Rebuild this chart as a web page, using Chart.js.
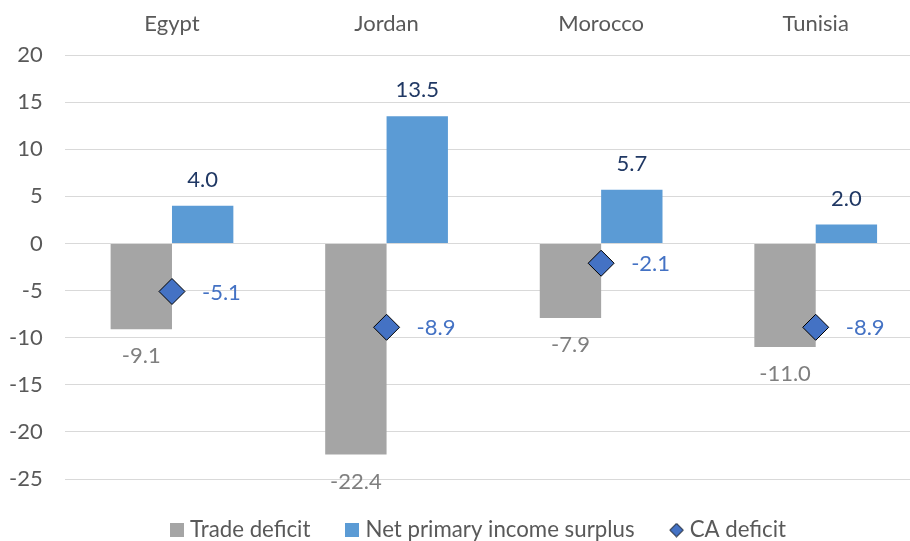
<!DOCTYPE html>
<html>
<head>
<meta charset="utf-8">
<script src="https://cdn.jsdelivr.net/npm/chart.js@4/dist/chart.umd.min.js"></script>
<style>
  html, body { margin: 0; padding: 0; background: #ffffff; overflow: hidden; }
  #wrap { width: 910px; height: 541px; overflow: hidden; }
  #c { display: block; }
</style>
</head>
<body>
<div id="wrap"><canvas id="c" width="923" height="541"></canvas></div>
<script>
const categories = ['Egypt', 'Jordan', 'Morocco', 'Tunisia'];
const tradeDeficit = [-9.1, -22.4, -7.9, -11.0];
const netPrimaryIncomeSurplus = [4.0, 13.5, 5.7, 2.0];
const caDeficit = [-5.1, -8.9, -2.1, -8.9];
const yTickValues = [20, 15, 10, 5, 0, -5, -10, -15, -20, -25];
const seriesNames = ['Trade deficit', 'Net primary income surplus', 'CA deficit'];

const FONT = 'Lato';
const GRAY = '#A5A5A5';
const BLUE = '#5B9BD5';
const DIAMOND = '#4472C4';
const TEXT = '#595959';

Chart.defaults.font.family = FONT;
Chart.defaults.font.size = 22;
Chart.defaults.color = TEXT;

function makeSquare(color) {
  const c = document.createElement('canvas');
  c.width = 14; c.height = 14;
  const g = c.getContext('2d');
  g.fillStyle = color;
  g.fillRect(0, 0, 14, 14);
  return c;
}
function makeDiamond(color) {
  const c = document.createElement('canvas');
  c.width = 15; c.height = 15;
  const g = c.getContext('2d');
  g.beginPath();
  g.moveTo(7.5, 0.8); g.lineTo(14.2, 7.5); g.lineTo(7.5, 14.2); g.lineTo(0.8, 7.5); g.closePath();
  g.fillStyle = color; g.fill();
  g.lineWidth = 1; g.strokeStyle = '#000000'; g.stroke();
  return c;
}
const legendIcons = [makeSquare(GRAY), makeSquare(BLUE), makeDiamond(DIAMOND)];

const valueLabels = {
  id: 'valueLabels',
  afterDatasetsDraw(chart) {
    const ctx = chart.ctx;
    ctx.save();
    ctx.font = '22px ' + FONT;
    ctx.textBaseline = 'middle';
    chart.data.datasets.forEach((ds, i) => {
      const meta = chart.getDatasetMeta(i);
      meta.data.forEach((el, j) => {
        const v = ds.data[j];
        const txt = v.toFixed(1);
        if (meta.type === 'line') {
          ctx.textAlign = 'left';
          ctx.fillStyle = DIAMOND;
          ctx.fillText(txt, el.x + 30, el.y + 1);
        } else if (v < 0) {
          ctx.textAlign = 'center';
          ctx.fillStyle = '#7F7F7F';
          ctx.fillText(txt, el.x, el.y + 27);
        } else {
          ctx.textAlign = 'center';
          ctx.fillStyle = '#203864';
          ctx.fillText(txt, el.x, el.y - 26);
        }
      });
    });
    ctx.restore();
  }
};

// The legend is centred slightly right of the canvas centre in the reference
const legendShift = {
  id: 'legendShift',
  afterLayout(chart) {
    if (chart.legend) {
      chart.legend.left += 19;
      chart.legend.right += 19;
    }
  }
};

new Chart(document.getElementById('c'), {
  type: 'bar',
  data: {
    labels: categories,
    datasets: [
      {
        label: seriesNames[0],
        data: tradeDeficit,
        backgroundColor: GRAY,
        borderWidth: 0,
        categoryPercentage: 0.572,
        barPercentage: 1.0
      },
      {
        label: seriesNames[1],
        data: netPrimaryIncomeSurplus,
        backgroundColor: BLUE,
        borderWidth: 0,
        categoryPercentage: 0.572,
        barPercentage: 1.0
      },
      {
        type: 'line',
        label: seriesNames[2],
        data: caDeficit,
        showLine: false,
        order: -1,
        pointStyle: 'rectRot',
        pointRadius: 13,
        pointHoverRadius: 13,
        pointBackgroundColor: DIAMOND,
        pointBorderColor: '#000000',
        pointBorderWidth: 1,
        backgroundColor: DIAMOND,
        borderColor: '#000000',
        clip: false
      }
    ]
  },
  options: {
    responsive: false,
    animation: false,
    layout: { autoPadding: false, padding: 0 },
    events: [],
    scales: {
      x: {
        position: 'top',
        grid: { display: false, drawTicks: false },
        border: { display: false },
        ticks: { color: TEXT, font: { size: 22, family: FONT }, padding: 18, maxRotation: 0 },
        afterFit(scale) { scale.height = 55; }
      },
      y: {
        min: Math.min(...yTickValues),
        max: Math.max(...yTickValues),
        grid: { color: '#D9D9D9', lineWidth: 1, drawTicks: false },
        border: { display: false },
        ticks: { color: TEXT, font: { size: 22, family: FONT }, padding: 22, stepSize: 5 },
        afterBuildTicks(scale) { scale.ticks = yTickValues.map(v => ({ value: v })); },
        afterFit(scale) { scale.width = 64.7; }
      }
    },
    plugins: {
      tooltip: { enabled: false },
      legend: {
        position: 'bottom',
        maxHeight: 62,
        labels: {
          usePointStyle: true,
          pointStyleWidth: 4,
          padding: 40,
          color: TEXT,
          font: { size: 22.25, family: FONT },
          generateLabels(chart) {
            const items = Chart.defaults.plugins.legend.labels.generateLabels(chart);
            items.sort((a, b) => a.datasetIndex - b.datasetIndex);
            items.forEach(it => { it.pointStyle = legendIcons[it.datasetIndex]; it.fontColor = TEXT; it.lineWidth = 0; });
            return items;
          }
        }
      }
    }
  },
  plugins: [valueLabels, legendShift]
});
</script>
</body>
</html>
